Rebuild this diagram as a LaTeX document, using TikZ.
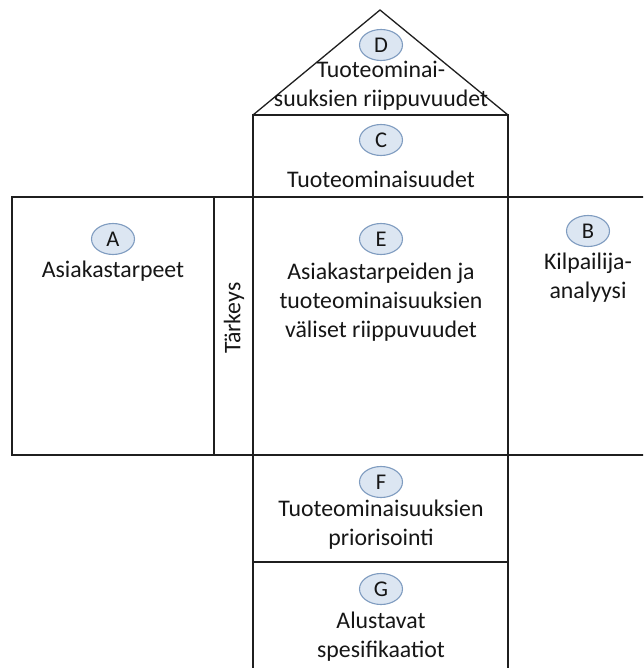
\documentclass[tikz,border=0pt]{standalone}
\usepackage{fontspec}
\setmainfont{Carlito}
\usetikzlibrary{shapes.geometric}
\definecolor{badgefill}{HTML}{DCE6F2}
\definecolor{badgeline}{HTML}{7F9CC0}
\definecolor{textdark}{HTML}{161616}
\begin{document}
\begin{tikzpicture}[x=1pt,y=-1pt,
  frame/.style={draw=black!88, line width=1.3pt},
  badge/.style={ellipse, draw=badgeline, line width=1.1pt, fill=badgefill,
    minimum width=43pt, minimum height=31pt, inner sep=0pt,
    text=textdark, font=\fontsize{22.5}{25}\selectfont},
  label/.style={align=center, inner sep=0pt, text=textdark,
    font=\fontsize{23.8}{29}\selectfont}]
\clip (0,0) rectangle (643,668);
\fill[white] (0,0) rectangle (643,668);

% roof and the column of the house
\draw[frame, line join=miter] (253,115) -- (380,10) -- (508,115);
\draw[frame] (253,115) rectangle (508,197);
\draw[frame] (12,197) rectangle (214,455);
\draw[frame] (214,197) rectangle (253,455);
\draw[frame] (253,197) rectangle (508,455);
\draw[frame] (508,197) rectangle (668,455);
\draw[frame] (253,455) rectangle (508,562);
\draw[frame] (253,562) rectangle (508,690);

% D: roof
\node[badge] (bD) at (381,45) {D};
\node[label] (tD) at (381,86) {Tuoteominai-\\suuksien riippuvuudet};
% C
\node[badge] (bC) at (381,140) {C};
\node[label] (tC) at (381,179) {Tuoteominaisuudet};
% A
\node[badge] (bA) at (113,239) {A};
\node[label] (tA) at (113,271) {Asiakastarpeet};
% importance column
\node[label, rotate=90] (tImp) at (234,318) {Tärkeys};
% E
\node[badge] (bE) at (381,239) {E};
\node[label] (tE) at (381,302) {Asiakastarpeiden ja\\tuoteominaisuuksien\\väliset riippuvuudet};
% B
\node[badge] (bB) at (588,231) {B};
\node[label] (tB) at (588,278) {Kilpailija-\\analyysi};
% F
\node[badge] (bF) at (381,482) {F};
\node[label] (tF) at (381,525) {Tuoteominaisuuksien\\priorisointi};
% G
\node[badge] (bG) at (381,589) {G};
\node[label] (tG) at (381,637) {Alustavat\\spesifikaatiot};
\end{tikzpicture}
\end{document}
